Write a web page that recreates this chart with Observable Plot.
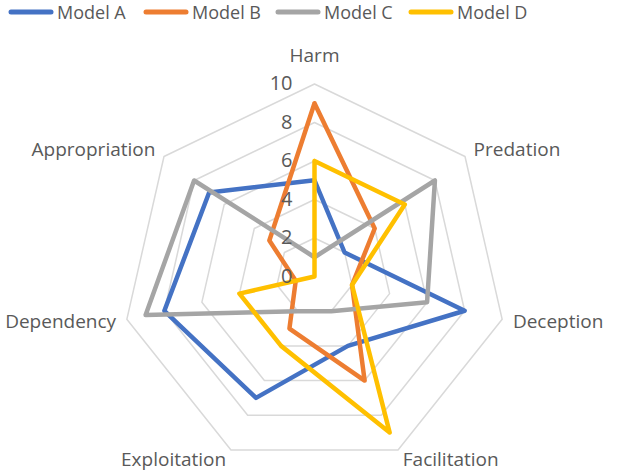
<!DOCTYPE html>
<html><head><meta charset="utf-8">
<script src="https://cdn.jsdelivr.net/npm/d3@7"></script>
<script src="https://cdn.jsdelivr.net/npm/@observablehq/plot@0.6"></script>
<style>
html,body{margin:0;padding:0;background:#fff;}
body{font-family:"Open Sans",sans-serif;width:629px;height:472px;overflow:hidden;}
#legend{position:relative;height:26px;width:629px;}
.item{position:absolute;top:0;height:24px;display:flex;align-items:center;font-size:18px;color:#595959;white-space:nowrap;}
.item svg{margin-right:3px;display:block;}
#chart svg{display:block;}
</style></head><body>
<div id="legend"></div>
<div id="chart"></div>
<script>
// Data
const axes = ["Harm","Predation","Deception","Facilitation","Exploitation","Dependency","Appropriation"];
const seriesNames = ["Model A","Model B","Model C","Model D"];
const modelA = [5,2,8,4,7,8,7];
const modelB = [9,4,2,6,3,1,3];
const modelC = [1,8,6,2,2,9,8];
const modelD = [6,6,2,9,4,4,0];
const tickValues = [0,2,4,6,8,10];
const gridLevels = [2,4,6,8,10];
const colors = ["#4472C4","#ED7D31","#A5A5A5","#FFC000"];

const seriesValues = [modelA, modelB, modelC, modelD];
const n = axes.length;
const ang = i => i * 2 * Math.PI / n;

// layout
const W = 629, H = 446, cx = 314, cy = 250, k = 19.25;

// series records (closed polygons)
const rows = [];
seriesValues.forEach((vals, s) => {
  for (let j = 0; j <= n; j++) {
    const i = j % n;
    rows.push({series: seriesNames[s], axis: axes[i], value: vals[i],
      x: vals[i] * Math.sin(ang(i)), y: vals[i] * Math.cos(ang(i))});
  }
});
const grid = [];
gridLevels.forEach(l => {
  for (let j = 0; j <= n; j++) {
    const i = j % n;
    grid.push({level: l, x: l * Math.sin(ang(i)), y: l * Math.cos(ang(i))});
  }
});
const maxV = d3.max(tickValues);
const labelR = i => i === 0 ? maxV + 28 / k : maxV + 11 / k;
const labels = axes.map((a, i) => ({label: a, i,
  x: labelR(i) * Math.sin(ang(i)), y: labelR(i) * Math.cos(ang(i)),
  anchor: Math.abs(Math.sin(ang(i))) < 0.1 ? "middle" : (Math.sin(ang(i)) > 0 ? "start" : "end")}));

const textFill = "#595959";
const chart = Plot.plot({
  width: W, height: H, margin: 0,
  x: {domain: [-cx / k, (W - cx) / k], range: [0, W], axis: null},
  y: {domain: [-(H - cy) / k, cy / k], range: [H, 0], axis: null},
  color: {domain: seriesNames, range: colors},
  style: {fontFamily: "'Open Sans', sans-serif", background: "#fff"},
  marks: [
    Plot.line(grid, {x: "x", y: "y", z: "level", stroke: "#D9D9D9", strokeWidth: 1.5}),
    Plot.line(rows, {x: "x", y: "y", z: "series", stroke: "series", strokeWidth: 4.5, strokeLinejoin: "round", strokeLinecap: "round"}),
    Plot.text(tickValues, {x: 0, y: d => d, text: d => String(d), textAnchor: "end", dx: -22, fontSize: 20, fill: textFill}),
    Plot.text(labels.filter(d => d.anchor === "middle"), {x: "x", y: "y", text: "label", textAnchor: "middle", fontSize: 19, fill: textFill}),
    Plot.text(labels.filter(d => d.anchor === "start"), {x: "x", y: "y", text: "label", textAnchor: "start", fontSize: 19, fill: textFill}),
    Plot.text(labels.filter(d => d.anchor === "end"), {x: "x", y: "y", text: "label", textAnchor: "end", fontSize: 19, fill: textFill})
  ]
});
document.getElementById("chart").appendChild(chart);

// Legend
const legendLefts = [8, 143, 275, 408];
const legend = document.getElementById("legend");
seriesNames.forEach((name, s) => {
  const item = document.createElement("div");
  item.className = "item";
  item.style.left = legendLefts[s] + "px";
  item.innerHTML = `<svg width="46" height="10"><line x1="3" y1="5" x2="43" y2="5" stroke="${colors[s]}" stroke-width="5" stroke-linecap="round"/></svg><span>${name}</span>`;
  legend.appendChild(item);
});
</script>
</body></html>
